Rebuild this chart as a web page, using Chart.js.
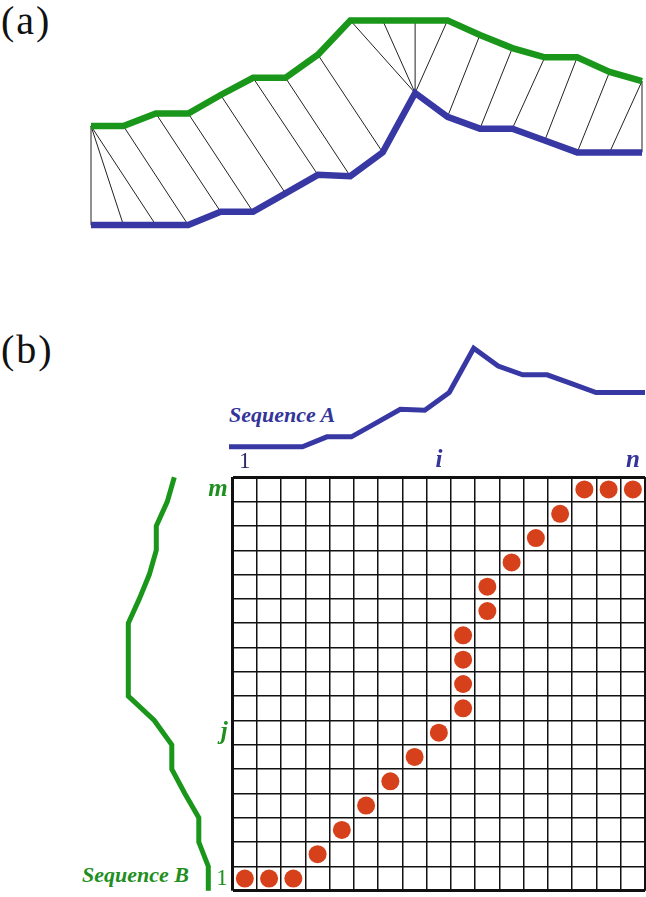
<!DOCTYPE html>
<html>
<head>
<meta charset="utf-8">
<script src="https://cdn.jsdelivr.net/npm/chart.js@4.4.1/dist/chart.umd.min.js"></script>
<style>
html,body{margin:0;padding:0;background:#fff;}
body{width:646px;height:897px;position:relative;overflow:hidden;}
canvas{position:absolute;}
.lbl{position:absolute;white-space:nowrap;}
</style>
</head>
<body>
<div class="lbl" style="left:1px;top:1px;font:40px/40px 'Liberation Serif',serif;letter-spacing:2px;color:#111">(a)</div>
<div class="lbl" style="left:1px;top:330px;font:40px/40px 'Liberation Serif',serif;letter-spacing:2px;color:#111">(b)</div>
<div class="lbl" style="left:229px;top:404px;font:italic bold 22px/22px 'Liberation Serif',serif;color:#34349a">Sequence A</div>
<div class="lbl" style="left:82px;top:864px;font:italic bold 22px/22px 'Liberation Serif',serif;color:#1f8f1f">Sequence B</div>

<canvas id="cWarp" width="646" height="260" style="left:0;top:0"></canvas>
<canvas id="cSeqA" width="646" height="130" style="left:0;top:330px"></canvas>
<canvas id="cGrid" width="646" height="457" style="left:0;top:440px"></canvas>
<canvas id="cSeqB" width="260" height="457" style="left:0;top:440px"></canvas>

<script>
// ---------------- data ----------------
const seqIndex = [0,1,2,3,4,5,6,7,8,9,10,11,12,13,14,15,16,17];
const seqA = [0,0,0,0,1,1,2.4,3.8,3.7,5.5,10,8.2,7.3,7.3,6.4,5.5,5.5,5.5];
const seqB = [0,0,0.95,0.95,2.35,3.65,3.65,5.4,8,8,8,8,6.9,5.9,5.2,5.2,4.1,3.4];
const offsetB = 7.5;                 // vertical shift of sequence B in panel (a)
const warpA = [0,1,2,3,4,5,6,7,8,9,10,10,10,10,11,12,13,14,15,16,17];
const warpB = [0,0,0,1,2,3,4,5,6,7,8,9,10,11,12,13,14,15,16,17,17];
const pathCol = [1,2,3,4,5,6,7,8,9,10,10,10,10,11,11,12,13,14,15,16,17];
const pathRow = [1,1,1,2,3,4,5,6,7,8,9,10,11,12,13,14,15,16,17,17,17];
const gridSize = 17;
const colTickPos = [1,9,17];
const colTickText = ['1','i','n'];
const rowTickPos = [1,7,17];
const rowTickText = ['1','j','m'];

// ---------------- styles ----------------
const GREEN = '#1a971a';
const BLUE = '#3838a4';
const RED = '#d6411b';
const common = {
  responsive:false, animation:false, devicePixelRatio:1,
  plugins:{legend:{display:false}, tooltip:{enabled:false}},
  events:[]
};
const hidden = (min,max,rev)=>({type:'linear',display:false,min,max,reverse:!!rev});
const noPad = s => { s.paddingTop = 0; s.paddingBottom = 0; s.paddingLeft = 0; s.paddingRight = 0; };

// ---------------- panel (a) ----------------
const aPts = seqIndex.map((x,k)=>({x, y:seqA[k]}));
const bPts = seqIndex.map((x,k)=>({x, y:seqB[k]+offsetB}));
const links = [];
warpA.forEach((ia,k)=>{
  const jb = warpB[k];
  links.push({x:ia, y:seqA[ia]});
  links.push({x:jb, y:seqB[jb]+offsetB});
  links.push({x:ia, y:null});
});
new Chart(document.getElementById('cWarp'), {
  type:'line',
  data:{datasets:[
    {data:bPts, borderColor:GREEN, borderWidth:6.5, pointRadius:0, clip:false, tension:0},
    {data:aPts, borderColor:BLUE, borderWidth:6.5, pointRadius:0, clip:false, tension:0},
    {data:links, borderColor:'#222', borderWidth:1, pointRadius:0, clip:false, spanGaps:false, tension:0}
  ]},
  options:Object.assign({}, common, {
    layout:{autoPadding:false, padding:{left:91,right:4,top:13.8,bottom:35}},
    scales:{x:hidden(0,17), y:hidden(0,16)}
  })
});

// ---------------- panel (b): sequence A ----------------
new Chart(document.getElementById('cSeqA'), {
  type:'line',
  data:{datasets:[{data:aPts, borderColor:BLUE, borderWidth:5, pointRadius:0, clip:false, tension:0}]},
  options:Object.assign({}, common, {
    layout:{autoPadding:false, padding:{left:229,right:1,top:18.3,bottom:13.3}},
    scales:{x:hidden(0,17), y:hidden(0,10)}
  })
});

// ---------------- panel (b): sequence B (vertical) ----------------
new Chart(document.getElementById('cSeqB'), {
  type:'line',
  data:{datasets:[{data:seqIndex.map((j,k)=>({x:seqB[k], y:j})), borderColor:GREEN, borderWidth:5,
                   pointRadius:0, clip:false, tension:0, indexAxis:'y'}]},
  options:Object.assign({}, common, {
    layout:{autoPadding:false, padding:{left:108.3,right:51.7,top:37.3,bottom:6.3}},
    scales:{x:hidden(0,10,true), y:hidden(0,17)}
  })
});

// ---------------- panel (b): DTW grid ----------------
const edges = [];
for (let e=0; e<=gridSize; e++) edges.push(e+0.5);
const edgeWidth = ctx => (ctx.type!=='tick' || ctx.index===0 || ctx.index===gridSize) ? 3 : 1.5;
const serif = "'Liberation Serif', serif";
const tickFont = (txt) => txt==='1'
  ? {family:serif, size:23, style:'normal', weight:'normal'}
  : {family:serif, size:25, style:'italic', weight:'bold'};

new Chart(document.getElementById('cGrid'), {
  type:'scatter',
  data:{datasets:[{
    data:pathCol.map((c,k)=>({x:c, y:pathRow[k]})),
    backgroundColor:RED, borderWidth:0, pointRadius:9, pointHoverRadius:9, clip:false
  }]},
  options:Object.assign({}, common, {
    layout:{autoPadding:false, padding:{left:0,top:0,right:1,bottom:6.3}},
    scales:{
      x:{type:'linear', position:'top', min:0.5, max:gridSize+0.5,
         afterBuildTicks:s=>{s.ticks=edges.map(v=>({value:v}));},
         afterFit:s=>{s.height=0; noPad(s);},
         ticks:{display:false, autoSkip:false},
         border:{display:false},
         grid:{color:'#111', lineWidth:edgeWidth, drawTicks:false}},
      xl:{type:'linear', axis:'x', position:'top', min:0.5, max:gridSize+0.5,
         afterBuildTicks:s=>{s.ticks=colTickPos.map(v=>({value:v}));},
         afterFit:s=>{s.height=37.3; noPad(s);},
         border:{display:false},
         grid:{display:false, drawTicks:false},
         ticks:{autoSkip:false, maxRotation:0, padding:2,
                callback:(v,i)=>colTickText[i],
                color:ctx=>colTickText[ctx.index]==='1' ? '#2c2c6c' : '#34349a',
                font:ctx=>tickFont(colTickText[ctx.index])}},
      y:{type:'linear', position:'left', min:0.5, max:gridSize+0.5,
         afterBuildTicks:s=>{s.ticks=edges.map(v=>({value:v}));},
         afterFit:s=>{s.width=0; noPad(s);},
         ticks:{display:false, autoSkip:false},
         border:{display:false},
         grid:{color:'#111', lineWidth:edgeWidth, drawTicks:false}},
      yl:{type:'linear', axis:'y', position:'left', min:0.5, max:gridSize+0.5,
         afterBuildTicks:s=>{s.ticks=rowTickPos.map(v=>({value:v}));},
         afterFit:s=>{s.width=232.7; noPad(s);},
         border:{display:false},
         grid:{display:false, drawTicks:false},
         ticks:{autoSkip:false, padding:5,
                callback:(v,i)=>rowTickText[i],
                color:'#1f8f1f',
                font:ctx=>tickFont(rowTickText[ctx.index])}}
    }
  })
});
</script>
</body>
</html>
